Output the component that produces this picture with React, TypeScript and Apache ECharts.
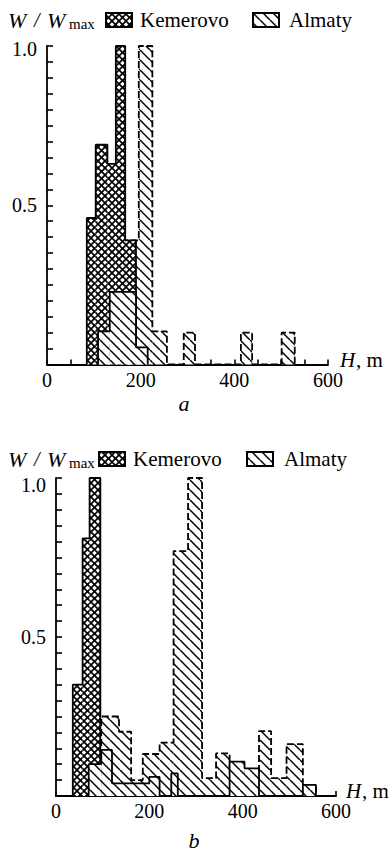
import React, { useEffect, useRef } from 'react';
import * as echarts from 'echarts';

// ---------- Panel a ----------
const aKemerovoFrom = [85, 104, 129, 147, 167];
const aKemerovoTo = [104, 129, 147, 167, 190];
const aKemerovoW = [0.46, 0.69, 0.63, 1.0, 0.39];

const aAlmatyDashFrom = [167, 196, 225, 292, 414, 501];
const aAlmatyDashTo = [196, 225, 256, 316, 438, 529];
const aAlmatyDashW = [0.39, 1.0, 0.104, 0.1, 0.1, 0.1];

const aAlmatySolidFrom = [109, 134, 190];
const aAlmatySolidTo = [134, 190, 215];
const aAlmatySolidW = [0.104, 0.228, 0.054];

// ---------- Panel b ----------
const bKemerovoFrom = [36, 57, 72];
const bKemerovoTo = [57, 72, 95];
const bKemerovoW = [0.35, 0.81, 1.0];

const bAlmatyDashFrom = [97, 135, 161, 186, 222, 252, 283, 313, 343, 372, 404, 435, 461, 494, 529];
const bAlmatyDashTo = [135, 161, 186, 222, 252, 283, 313, 343, 372, 404, 435, 461, 494, 529, 557];
const bAlmatyDashW = [0.25, 0.202, 0.05, 0.132, 0.168, 0.77, 1.0, 0.056, 0.134, 0.09, 0.07, 0.204, 0.056, 0.163, 0.03];

const bAlmatySolidFrom = [70, 97, 120, 200, 247, 372, 404, 529];
const bAlmatySolidTo = [97, 120, 200, 222, 261, 404, 435, 557];
const bAlmatySolidW = [0.1, 0.145, 0.04, 0.06, 0.071, 0.108, 0.087, 0.035];

// ---------- Axis ticks ----------
const xMax = 600;
const xStep = 50;
const xLabelled = [0, 200, 400, 600];
const yMax = 1.0;
const yStep = 0.05;
const yLabelled = ['0.5', '1.0'];

const SERIF = "'Liberation Serif'";

function makePattern(kind: 'cross' | 'hatch') {
  const s = kind === 'cross' ? 7 : 10;
  const c = document.createElement('canvas');
  c.width = s;
  c.height = s;
  const ctx = c.getContext('2d')!;
  ctx.fillStyle = '#fff';
  ctx.fillRect(0, 0, s, s);
  ctx.strokeStyle = '#000';
  ctx.lineWidth = kind === 'cross' ? 1.7 : 1.5;
  for (const o of [-s, 0, s]) {
    ctx.beginPath();
    ctx.moveTo(o, 0);
    ctx.lineTo(o + s, s);
    ctx.stroke();
    if (kind === 'cross') {
      ctx.beginPath();
      ctx.moveTo(o, s);
      ctx.lineTo(o + s, 0);
      ctx.stroke();
    }
  }
  return { image: c, repeat: 'repeat', imageWidth: s, imageHeight: s } as any;
}

function outline(from: number[], to: number[], w: number[]) {
  const pts: number[][] = [];
  for (let i = 0; i < from.length; i++) {
    if (i === 0 || from[i] !== to[i - 1]) {
      if (i > 0) pts.push([to[i - 1], 0]);
      pts.push([from[i], 0]);
    }
    pts.push([from[i], w[i]]);
    pts.push([to[i], w[i]]);
  }
  pts.push([to[to.length - 1], 0]);
  return pts;
}

function hist(
  name: string,
  idx: number,
  from: number[],
  to: number[],
  w: number[],
  fill: any,
  dashed: boolean,
  z: number
) {
  return [
    {
      type: 'custom',
      name,
      xAxisIndex: idx,
      yAxisIndex: idx,
      z,
      silent: true,
      clip: false,
      data: from.map((f, i) => [f, to[i], w[i]]),
      renderItem: (_p: any, api: any) => {
        const a = api.coord([api.value(0), api.value(2)]);
        const b = api.coord([api.value(1), 0]);
        return {
          type: 'rect',
          shape: { x: a[0], y: a[1], width: b[0] - a[0], height: b[1] - a[1] },
          style: { fill, stroke: null, lineWidth: 0 },
        };
      },
    },
    {
      type: 'line',
      name,
      xAxisIndex: idx,
      yAxisIndex: idx,
      z: z + 1,
      silent: true,
      symbol: 'none',
      data: outline(from, to, w),
      lineStyle: { color: '#000', width: 1.8, type: dashed ? [7, 3] : 'solid' },
    },
  ];
}

function xAxisOf(gridIndex: number) {
  return {
    gridIndex,
    type: 'value',
    min: 0,
    max: xMax,
    interval: xStep,
    axisLine: { show: true, onZero: false, lineStyle: { color: '#000', width: 1.8 } },
    axisTick: { show: true, inside: true, length: 5, lineStyle: { color: '#000', width: 1.6 } },
    axisLabel: {
      color: '#000',
      fontFamily: SERIF,
      fontSize: 20,
      margin: 5,
      formatter: (v: number) => (xLabelled.includes(Math.round(v)) ? String(Math.round(v)) : ''),
    },
    splitLine: { show: false },
  };
}

function yAxisOf(gridIndex: number, topShift: number) {
  return {
    gridIndex,
    type: 'value',
    min: 0,
    max: yMax,
    interval: yStep,
    axisLine: { show: true, onZero: false, lineStyle: { color: '#000', width: 1.8 } },
    axisTick: { show: true, inside: true, length: 6, lineStyle: { color: '#000', width: 1.6 } },
    axisLabel: {
      color: '#000',
      fontFamily: SERIF,
      fontSize: 20,
      margin: 10,
      formatter: (v: number) => {
        const s = v.toFixed(1);
        if (!(Math.abs(v - parseFloat(s)) < 1e-6 && yLabelled.includes(s))) return '';
        return s === '1.0' ? '{t|' + s + '}' : s;
      },
      rich: {
        t: { fontFamily: SERIF, fontSize: 20, color: '#000', padding: [topShift * 2, 0, 0, 0] },
      },
    },
    splitLine: { show: false },
  };
}

function legend(y: number, wx: number, crossX: number, kemX: number, almSwX: number, almX: number, cross: any, hatch: any) {
  return [
    {
      type: 'text',
      x: wx,
      y,
      style: { text: 'W', font: `italic 22px ${SERIF}`, fill: '#000', verticalAlign: 'middle', align: 'left' },
    },
    {
      type: 'text',
      x: wx + 26,
      y,
      style: { text: '/', font: `italic 20px ${SERIF}`, fill: '#000', verticalAlign: 'middle', align: 'left' },
    },
    {
      type: 'text',
      x: wx + 39,
      y,
      style: { text: 'W', font: `italic 22px ${SERIF}`, fill: '#000', verticalAlign: 'middle', align: 'left' },
    },
    {
      type: 'text',
      x: wx + 61,
      y: y + 4,
      style: { text: 'max', font: `15px ${SERIF}`, fill: '#000', verticalAlign: 'middle', align: 'left' },
    },
    {
      type: 'rect',
      shape: { x: crossX, y: y - 7, width: 26, height: 14 },
      style: { fill: cross, stroke: '#000', lineWidth: 2 },
    },
    {
      type: 'text',
      x: kemX,
      y,
      style: { text: 'Kemerovo', font: `21px ${SERIF}`, fill: '#000', verticalAlign: 'middle', align: 'left' },
    },
    {
      type: 'rect',
      shape: { x: almSwX, y: y - 7, width: 26, height: 14 },
      style: { fill: hatch, stroke: '#000', lineWidth: 2 },
    },
    {
      type: 'text',
      x: almX,
      y,
      style: { text: 'Almaty', font: `21px ${SERIF}`, fill: '#000', verticalAlign: 'middle', align: 'left' },
    },
  ];
}

function hLabel(x: number, y: number) {
  return [
    {
      type: 'text',
      x,
      y,
      style: { text: 'H', font: `italic 21px ${SERIF}`, fill: '#000', verticalAlign: 'middle', align: 'left' },
    },
    {
      type: 'text',
      x: x + 16,
      y,
      style: { text: ', m', font: `21px ${SERIF}`, fill: '#000', verticalAlign: 'middle', align: 'left' },
    },
  ];
}

export default function App() {
  const ref = useRef<HTMLDivElement>(null);
  useEffect(() => {
    if (!ref.current) return;
    const chart = echarts.init(ref.current, undefined, { renderer: 'svg' });
    const cross = makePattern('cross');
    const hatch = makePattern('hatch');
    const option: any = {
      animation: false,
      backgroundColor: '#fff',
      grid: [
        { left: 47, top: 46, width: 281, height: 318.5 },
        { left: 56, top: 478, width: 280, height: 318 },
      ],
      xAxis: [xAxisOf(0), xAxisOf(1)],
      yAxis: [yAxisOf(0, 3), yAxisOf(1, 7)],
      series: [
        ...hist('Almaty', 0, aAlmatyDashFrom, aAlmatyDashTo, aAlmatyDashW, hatch, true, 2),
        ...hist('Kemerovo', 0, aKemerovoFrom, aKemerovoTo, aKemerovoW, cross, false, 4),
        ...hist('Almaty', 0, aAlmatySolidFrom, aAlmatySolidTo, aAlmatySolidW, hatch, false, 6),
        ...hist('Almaty', 1, bAlmatyDashFrom, bAlmatyDashTo, bAlmatyDashW, hatch, true, 2),
        ...hist('Kemerovo', 1, bKemerovoFrom, bKemerovoTo, bKemerovoW, cross, false, 4),
        ...hist('Almaty', 1, bAlmatySolidFrom, bAlmatySolidTo, bAlmatySolidW, hatch, false, 6),
      ],
      graphic: [
        ...legend(20, 8, 106, 140, 253, 289, cross, hatch),
        ...legend(459, 8, 99, 133, 247, 284, cross, hatch),
        ...hLabel(340, 360),
        ...hLabel(346, 791),
        {
          type: 'text',
          x: 184,
          y: 403,
          style: { text: 'a', font: `italic 22px ${SERIF}`, fill: '#000', verticalAlign: 'middle', align: 'center' },
        },
        {
          type: 'text',
          x: 194,
          y: 840,
          style: { text: 'b', font: `italic 22px ${SERIF}`, fill: '#000', verticalAlign: 'middle', align: 'center' },
        },
      ],
    };
    chart.setOption(option);
    return () => chart.dispose();
  }, []);
  return (
    <div
      ref={ref}
      style={{ position: 'absolute', left: 0, top: 0, width: 390, height: 856, background: '#fff' }}
    />
  );
}
